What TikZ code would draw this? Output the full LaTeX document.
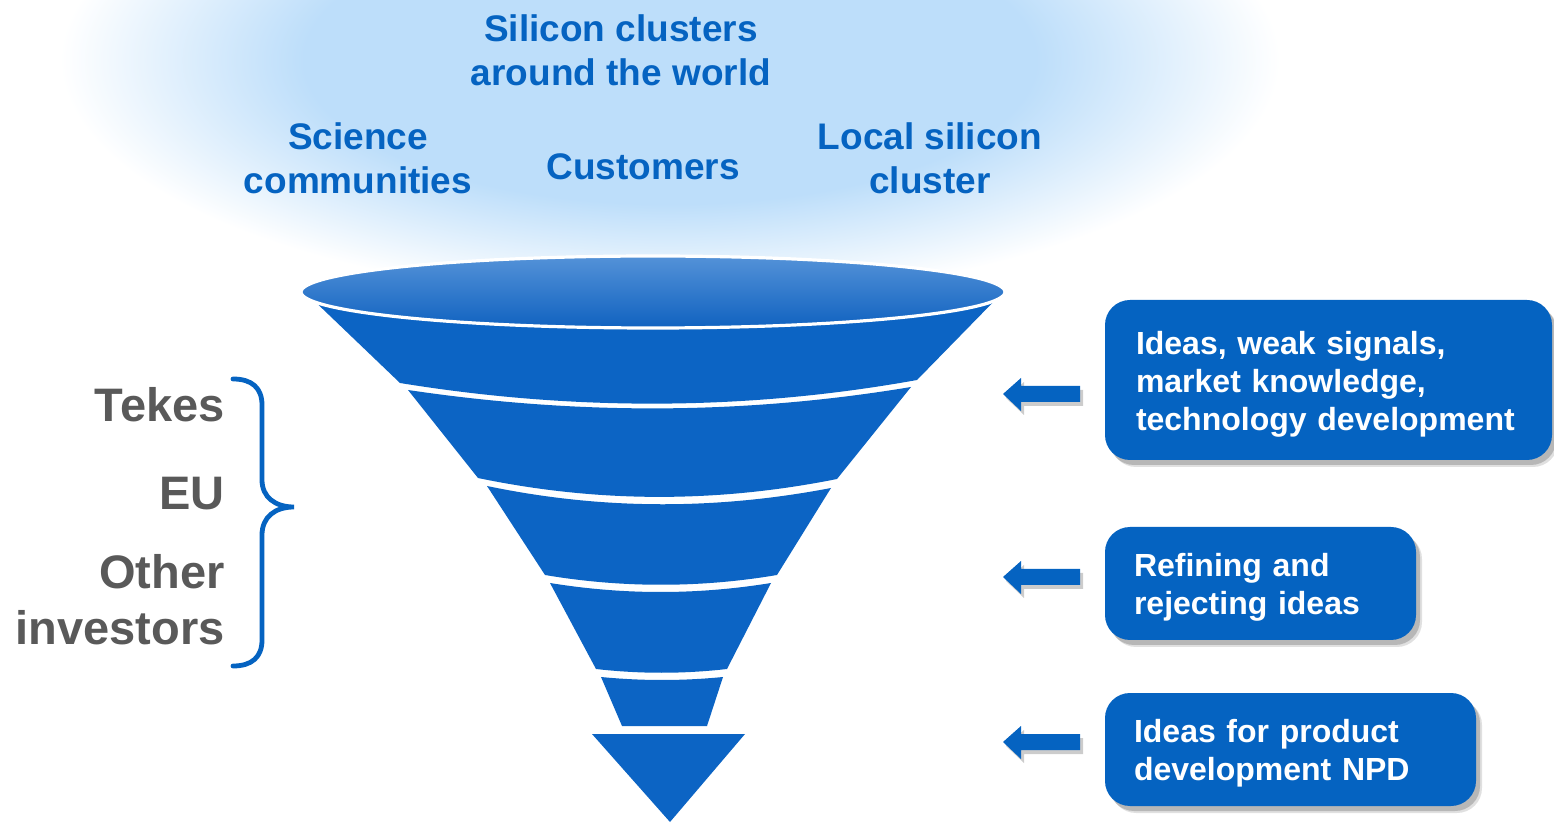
\documentclass[tikz,border=0pt]{standalone}
\usepackage{fontspec}
\setmainfont{Liberation Sans}
\usetikzlibrary{shadows}
\definecolor{glowc}{RGB}{189,222,250}
\definecolor{obl}{RGB}{5,99,193}
\definecolor{fun}{RGB}{12,100,196}
\definecolor{ftop}{RGB}{84,146,216}
\definecolor{fbot}{RGB}{16,98,192}
\definecolor{gtxt}{RGB}{89,89,89}
\pgfdeclareradialshading{glowshade}{\pgfpoint{0bp}{0bp}}{color(0bp)=(glowc); color(15bp)=(glowc); color(25bp)=(white); color(50bp)=(white)}
\tikzset{
  gtext/.style={font=\bfseries\fontsize{18.5}{22}\selectfont, text=obl, align=center, inner sep=0pt},
  ltext/.style={font=\bfseries\fontsize{23.5}{28}\selectfont, text=gtxt, align=right, inner sep=0pt, anchor=east},
  band/.style={fill=fun},
  boxshadow/.style={drop shadow={shadow xshift=2pt, shadow yshift=-2.5pt, opacity=0.18, fill=black},
                    drop shadow={shadow xshift=3pt, shadow yshift=-3.5pt, opacity=0.12, fill=black}},
  infobox/.style={boxshadow, fill=obl, rounded corners=12.5pt, text=white, align=left,
                  font=\bfseries\fontsize{16}{19}\selectfont, inner ysep=0pt},
  blockarrow/.style={fill=obl, drop shadow={shadow xshift=1.5pt, shadow yshift=-2pt, opacity=0.2, fill=black}},
  bracestyle/.style={draw=obl, line width=2.4pt, line cap=round}
}
\newcommand{\topstrut}{\rule{0pt}{15.5pt}}
\begin{document}
\begin{tikzpicture}[x=0.5pt,y=-0.5pt]
\useasboundingbox (0,0) rectangle (1554,823);
\fill[white] (0,0) rectangle (1554,823);
% glow
\shade[shading=glowshade] (670,60) ellipse [x radius=610, y radius=240];

% glow texts
\node[gtext] (silicon) at (621,50) {Silicon clusters\\around the world};
\node[gtext] (science) at (358,158) {Science\\communities};
\node[gtext] (customers) at (643,167) {Customers};
\node[gtext] (local) at (930,158) {Local silicon\\cluster};

% funnel bands
\fill[band] (305,292) -- (400,383) .. controls (572,411) and (745,411) .. (917,380) -- (1003,292) -- cycle;
\fill[band] (408,390) .. controls (576,415) and (743,415) .. (911,387) -- (837,479) .. controls (717,503) and (598,503) .. (478,478) -- cycle;
\fill[band] (487,486) .. controls (602,510) and (716,510) .. (831,488) -- (777,575) .. controls (700,588) and (622,588) .. (545,575) -- cycle;
\fill[band] (550,583) .. controls (624,595) and (697,595) .. (771,583) -- (727,669) .. controls (683,674) and (640,674) .. (596,669) -- cycle;
\fill[band] (601,677) .. controls (642,681) and (682,681) .. (723,677) -- (707,726) -- (622,726) -- cycle;
\fill[band] (592,734) -- (745,734) -- (670,822) -- cycle;
% funnel top
\path[draw=white, line width=1.6pt, top color=ftop, bottom color=fbot] (653,292) ellipse [x radius=352, y radius=36];

% left labels and brace
\node[ltext] (tekes) at (225,405) {Tekes};
\node[ltext] (eu) at (225,494) {EU};
\node[ltext] (other) at (225,600) {Other\\investors};
\draw[bracestyle] (233,379) .. controls (252,379) and (262,388) .. (262,405) -- (262,480)
   .. controls (262,497) and (275,507) .. (294,507)
   .. controls (275,507) and (262,517) .. (262,535) -- (262,640)
   .. controls (262,657) and (252,666) .. (233,666);

% arrows
\foreach \Y in {394,577,742}{
  \fill[blockarrow] (1003,\Y) -- (1021,\Y-16) -- (1021,\Y-8) -- (1080,\Y-8) -- (1080,\Y+8) -- (1021,\Y+8) -- (1021,\Y+17) -- cycle;
}

% boxes
\node[infobox, minimum width=223.5pt, minimum height=80pt, inner xsep=15.5pt, text width=192.5pt] (box1) at (1328.5,380)
  {\topstrut Ideas, weak signals,\\market knowledge,\\technology development};
\node[infobox, minimum width=155.5pt, minimum height=56.5pt, inner xsep=14.5pt, text width=126.5pt] (box2) at (1260.5,583.5)
  {\topstrut Refining and\\rejecting ideas};
\node[infobox, minimum width=185.5pt, minimum height=56.5pt, inner xsep=14.5pt, text width=156.5pt] (box3) at (1290.5,749.5)
  {\topstrut Ideas for product\\development NPD};
\end{tikzpicture}
\end{document}
